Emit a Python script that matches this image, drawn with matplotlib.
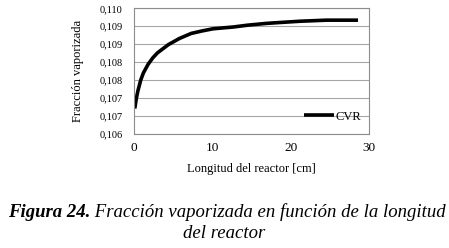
import matplotlib.pyplot as plt
from matplotlib.ticker import FuncFormatter, MultipleLocator

# values
longitud = [0.1, 0.3, 0.5, 0.86, 1.2, 1.8, 2.4, 3.0, 4.4, 5.8, 7.3, 8.7, 10.1,
            12.7, 14.5, 16.9, 19.0, 21.2, 24.6, 28.6]
fraccion = [0.10711, 0.10739, 0.10760, 0.10790, 0.10810, 0.10834, 0.10852,
            0.10866, 0.10889, 0.10906, 0.10920, 0.10927, 0.10933,
            0.10938, 0.10943, 0.10948, 0.10951, 0.10954, 0.10957, 0.10957]
y_ticks = [0.1064 + 0.0005 * i for i in range(8)]

plt.rcParams['font.family'] = ['Liberation Serif', 'DejaVu Serif']

fig = plt.figure(figsize=(4.49, 2.48), dpi=100)
ax = fig.add_axes([0.2984, 0.4597, 0.8218 - 0.2984, 0.9665 - 0.4597])

ax.plot(longitud, fraccion, color='black', lw=2.6, label='CVR',
        solid_capstyle='butt', solid_joinstyle='round')

ax.set_xlim(0, 30)
ax.set_ylim(y_ticks[0], y_ticks[-1])
ax.xaxis.set_major_locator(MultipleLocator(10))
ax.set_yticks(y_ticks)
ax.yaxis.set_major_formatter(FuncFormatter(lambda v, p: ('%.3f' % v).replace('.', ',')))
ax.grid(axis='y', color='#a6a6a6', lw=0.8)
ax.set_axisbelow(True)
for s in ax.spines.values():
    s.set_color('#8c8c8c')
    s.set_linewidth(0.8)
ax.tick_params(axis='y', length=0, labelsize=7.5, pad=8)
ax.tick_params(axis='x', length=0, labelsize=9.5, pad=6)

ax.set_xlabel('Longitud del reactor [cm]', fontsize=9, labelpad=6)
ax.set_ylabel('Fracción vaporizada', fontsize=9, labelpad=11)

ax.legend(loc='lower right', frameon=False, fontsize=9, handlelength=2.4,
          handletextpad=0.1, borderaxespad=0.2, bbox_to_anchor=(1.0, 0.03))

t1 = fig.text(0.017, 0.125, 'Figura 24.', fontsize=13.5, fontweight='bold', style='italic',
              va='baseline')
fig.canvas.draw()
ax.annotate(' Fracción vaporizada en función de la longitud', xy=(1, 0), xycoords=t1,
            fontsize=13.5, style='italic', va='bottom', ha='left')
fig.text(0.5, 0.04, 'del reactor', fontsize=13.5, style='italic', ha='center', va='baseline')

fig.savefig('out.png', dpi=100)
